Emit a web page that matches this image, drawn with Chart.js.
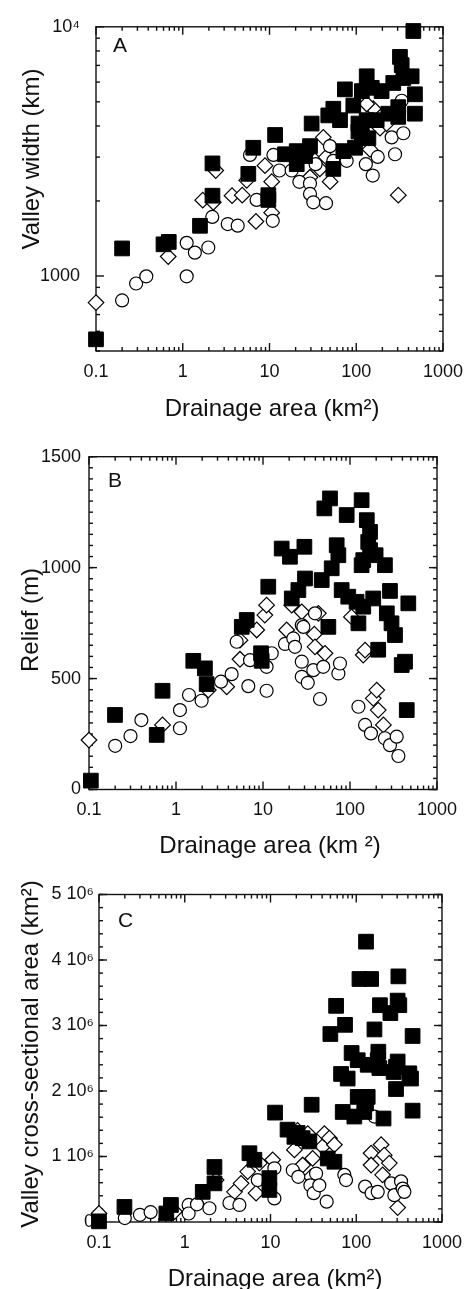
<!DOCTYPE html>
<html><head><meta charset="utf-8">
<script src="https://cdn.jsdelivr.net/npm/chart.js@4.4.1/dist/chart.umd.min.js"></script>
<style>
html,body{margin:0;padding:0;background:#fff;width:474px;height:1289px;overflow:hidden}
canvas{position:absolute;left:0}
</style></head>
<body>
<canvas id="cA" width="474" height="430" style="top:0px"></canvas>
<canvas id="cB" width="474" height="430" style="top:430px"></canvas>
<canvas id="cC" width="474" height="429" style="top:860px"></canvas>
<script>
// ---------- Tick labels ----------
const xTickValues = [0.1, 1, 10, 100, 1000];
const xTickLabels = ['0.1', '1', '10', '100', '1000'];
const aYTickValues = [1000, 10000];
const aYTickLabels = ['1000', '10\u2074'];
const bYTickValues = [0, 500, 1000, 1500];
const bYTickLabels = ['0', '500', '1000', '1500'];
const cYTickValues = [0, 1, 2, 3, 4, 5];
const cYTickLabels = ['0', '1 10\u2076', '2 10\u2076', '3 10\u2076', '4 10\u2076', '5 10\u2076'];

// ---------- Panel A: valley width (km) vs drainage area (km2) ----------
const aSquareX = [0.1,0.2,0.6,0.69,1.58,2.2,2.2,5.7,6.5,9.7,9.7,11.6,15.1,20.6,20.6,25.7,29.3,30.6,54.4,71,96.8,47.6,54.4,65,74,92.5,106,106,116,116,132,132,138,151,172,196,234,267,305,305,349,319,334,435,475,475,455];
const aSquareY = [557,1290,1340,1370,1590,2100,2830,2570,3270,2110,2020,3680,3080,3170,2810,3030,3320,4090,2690,3170,3270,4410,4690,4220,5610,4830,4090,3800,3680,5520,6330,4220,3570,5690,4220,5520,4480,5950,4760,4350,6230,7570,7020,6330,5360,4480,9620];
const aCircleX = [0.2,0.29,0.38,1.11,1.11,1.38,1.97,2.19,3.3,4.3,7.1,10.9,5.96,11.1,13,18,22.1,29.3,29.3,32,44.8,49.8,54.4,77.6,129,155,177,256,349,280,334,34];
const aCircleY = [798,933,997,997,1358,1241,1301,1726,1616,1592,2020,1665,3060,3060,2650,2650,2387,2350,2135,1976,1960,3320,2898,2898,2810,2530,3005,3600,3740,3080,5050,2810];
const aDiamondX = [0.1,0.68,1.7,2.25,2.4,3.7,4.85,6.98,8.87,5.46,10.6,10.6,29.3,41.7,38,50,33.5,157,188,224,144,305,132,45];
const aDiamondY = [782,1197,2015,1976,2650,2100,2110,1655,2772,2420,2390,1795,2490,3600,2690,2390,2898,4690,3920,4090,3220,2110,4900,3000];

// ---------- Panel B: relief (m) ----------
const bSquareX = [0.105,0.199,0.60,0.70,1.58,2.15,2.25,5.7,6.5,9.5,9.66,11.5,16.4,20.4,21.4,25.5,29.9,30.4,47.3,50.7,56.4,58.9,61.6,70.3,73.5,80.2,91.6,95.5,119,125,136,136,142,142,156,162,170,170,185,197,211,252,265,288,300,329,393,429,449,468];
const bSquareY = [40,336,246,445,580,546,475,733,764,614,580,914,1086,1049,861,899,1094,951,944,1267,733,1312,997,1101,1056,899,1237,869,846,749,1304,1011,1034,824,1214,1116,1161,1079,861,1056,630,1011,794,895,749,696,561,576,358,839];
const bCircleX = [0.2,0.30,0.40,1.11,1.11,1.41,1.97,3.29,4.36,4.98,6.78,7.1,11,11,12.6,17.9,22.3,23.3,27.9,27.9,27.9,29.1,32.7,37.9,39.6,45.2,49.3,73.5,76.7,125,149,174,252,288,344,360];
const bCircleY = [197,241,313,276,358,426,400,486,520,666,466,583,445,553,614,656,681,643,576,508,741,733,481,538,794,408,553,523,568,373,291,253,231,200,238,151];
const bDiamondX = [0.1,0.70,2.35,3.83,5.44,5.44,8.47,10.5,11,18.7,21.4,27.9,38.9,39.6,43.3,51.6,104,142,149,185,203,211,242];
const bDiamondY = [223,291,448,463,587,673,719,786,831,719,831,801,700,643,794,614,778,606,628,411,448,358,291];

// ---------- Panel C: valley cross-sectional area (units of 10^6 km2) ----------
const cSquareX = [0.1,0.198,0.61,0.69,1.62,2.22,2.22,5.68,6.49,9.7,9.7,11.3,15.8,19,20.7,23.7,28.4,30.2,46.5,49.9,55.6,58.2,66.5,69.5,74,79.4,88.3,95,104,104,109,124,130,130,136,136,149,163,178,181,186,189,208,250,273,291,291,304,304,310,318,416,435,454,454];
const cSquareY = [0.01,0.23,0.13,0.26,0.46,0.84,0.59,1.05,0.95,0.67,0.49,1.67,1.41,1.30,1.36,1.28,1.23,1.79,0.97,2.87,0.92,3.30,2.26,1.68,3.01,2.19,2.58,1.61,2.47,1.91,3.71,1.68,4.28,1.81,2.40,1.91,3.71,2.94,2.47,2.60,2.35,3.31,1.58,3.19,2.29,2.37,2.03,3.38,2.45,3.75,3.31,2.27,2.19,2.84,1.70];
const cCircleX = [0.2,0.30,0.40,1.11,1.11,1.39,1.94,3.32,4.34,7.1,11.1,11.1,18.2,21.1,29.2,31.9,34,37.1,45.2,72.6,76,127,151,163,178,255,278,333,348,364];
const cCircleY = [0.06,0.11,0.15,0.26,0.13,0.27,0.21,0.29,0.26,0.64,0.82,0.36,0.79,0.69,0.56,0.44,0.74,0.56,0.31,0.72,0.64,0.54,0.44,1.61,0.46,0.59,0.41,0.62,0.51,0.46];
const cDiamondX = [0.1,0.76,2.32,3.8,4.54,5.42,6.79,7.43,10.6,19,20.7,23.7,27.2,29.7,31,40.5,42.5,48.6,55.6,149,149,195,203,212,243,304];
const cDiamondY = [0.13,0.16,0.64,0.46,0.59,0.77,0.44,0.90,0.95,1.10,1.40,0.87,1.35,0.69,0.97,1.15,1.35,1.28,1.18,1.05,0.87,1.18,0.72,1.02,0.90,0.22];

// ---------- helpers ----------
const FONT = '"Liberation Sans", Arial, Helvetica, sans-serif';
const INK = '#111';
function pts(xs, ys) { return xs.map((x, i) => ({ x: x, y: ys[i] })); }
function logMinor(lo, hi) {
  const out = [];
  for (let e = Math.floor(Math.log10(lo)) - 1; e <= Math.ceil(Math.log10(hi)); e++) {
    for (let m = 2; m < 10; m++) {
      const v = m * Math.pow(10, e);
      if (v >= lo * 0.999 && v <= hi * 1.001) out.push(v);
    }
  }
  return out;
}
function linMinor(lo, hi, step) {
  const out = [];
  for (let k = 0; lo + k * step <= hi + 1e-9; k++) out.push(lo + k * step);
  return out;
}

const framePlugin = {
  id: 'frame',
  beforeDatasetsDraw(chart, args, o) {
    const ctx = chart.ctx, a = chart.chartArea, sx = chart.scales.x, sy = chart.scales.y;
    ctx.save();
    ctx.strokeStyle = INK;
    ctx.lineWidth = 1.4;
    ctx.lineCap = 'butt';
    const line = (x1, y1, x2, y2) => { ctx.beginPath(); ctx.moveTo(x1, y1); ctx.lineTo(x2, y2); ctx.stroke(); };
    const xt = (vals, len) => vals.forEach(v => { const p = sx.getPixelForValue(v); line(p, a.bottom, p, a.bottom - len); line(p, a.top, p, a.top + len); });
    const yt = (vals, len) => vals.forEach(v => { const p = sy.getPixelForValue(v); line(a.left, p, a.left + len, p); line(a.right, p, a.right - len, p); });
    xt(o.xMinor, 4); xt(o.xMajor, 8);
    yt(o.yMinor, 4); yt(o.yMajor, 8);
    ctx.strokeRect(a.left, a.top, a.right - a.left, a.bottom - a.top);
    ctx.restore();
  },
  afterDraw(chart, args, o) {
    const ctx = chart.ctx;
    ctx.save();
    ctx.fillStyle = INK;
    ctx.textBaseline = 'alphabetic';
    ctx.font = '21px ' + FONT;
    ctx.textAlign = 'left';
    ctx.fillText(o.letter, o.letterX, o.letterY);
    ctx.font = '24px ' + FONT;
    ctx.textAlign = 'center';
    ctx.fillText(o.xTitle, o.xTitleX, o.xTitleY);
    ctx.translate(o.yTitleX, o.yTitleY);
    ctx.rotate(-Math.PI / 2);
    ctx.fillText(o.yTitle, 0, 0);
    ctx.restore();
  }
};

function makeChart(id, cfg) {
  const cv = document.getElementById(id);
  const H = cv.height, W = cv.width;
  const ds = (label, data, style, r, bg, bw) => ({
    label, data, pointStyle: style, pointRadius: r, pointHoverRadius: r,
    backgroundColor: bg, borderColor: '#000', pointBorderWidth: bw, borderWidth: bw,
    showLine: false, clip: false
  });
  return new Chart(cv, {
    type: 'scatter',
    data: {
      datasets: [
        ds('squares', pts(cfg.sqX, cfg.sqY), 'rect', 10.4, '#000', 1),
        ds('circles', pts(cfg.ciX, cfg.ciY), 'circle', 6.5, '#fff', 1.2),
        ds('diamonds', pts(cfg.diX, cfg.diY), 'rectRot', 7.8, '#fff', 1.2)
      ]
    },
    options: {
      responsive: false, animation: false, devicePixelRatio: 1,
      layout: { padding: { left: 0, top: cfg.top, right: W - cfg.right, bottom: 0 } },
      plugins: {
        legend: { display: false }, tooltip: { enabled: false },
        frame: cfg.frame
      },
      scales: {
        x: {
          type: 'logarithmic', min: 0.1, max: 1000,
          grid: { display: false, drawTicks: false }, border: { display: false },
          ticks: {
            autoSkip: false, maxRotation: 0, minRotation: 0, padding: 10, color: INK,
            font: { family: FONT, size: 18 },
            callback: (v, i) => xTickLabels[i]
          },
          afterBuildTicks: s => { s.ticks = xTickValues.map(v => ({ value: v })); },
          afterFit: s => { s.height = H - cfg.bottom; }
        },
        y: {
          type: cfg.yType, min: cfg.yMin, max: cfg.yMax,
          grid: { display: false, drawTicks: false }, border: { display: false },
          ticks: {
            autoSkip: false, padding: cfg.yPad, color: INK,
            font: { family: FONT, size: 18 },
            callback: (v, i) => cfg.yLabels[i]
          },
          afterBuildTicks: s => { s.ticks = cfg.yValues.map(v => ({ value: v })); },
          afterFit: s => { s.width = cfg.left; }
        }
      }
    },
    plugins: [framePlugin]
  });
}

const xMinorTicks = logMinor(0.1, 1000);

makeChart('cA', {
  sqX: aSquareX, sqY: aSquareY, ciX: aCircleX, ciY: aCircleY, diX: aDiamondX, diY: aDiamondY,
  yType: 'logarithmic', yMin: 500, yMax: 10000, yValues: aYTickValues, yLabels: aYTickLabels, yPad: 16,
  left: 96, right: 443, top: 19, bottom: 351,
  frame: {
    xMajor: xTickValues, xMinor: xMinorTicks, yMajor: aYTickValues, yMinor: logMinor(500, 10000),
    letter: 'A', letterX: 113, letterY: 52,
    xTitle: 'Drainage area (km\u00B2)', xTitleX: 272, xTitleY: 416,
    yTitle: 'Valley width (km)', yTitleX: 38.5, yTitleY: 159
  }
});

makeChart('cB', {
  sqX: bSquareX, sqY: bSquareY, ciX: bCircleX, ciY: bCircleY, diX: bDiamondX, diY: bDiamondY,
  yType: 'linear', yMin: 0, yMax: 1500, yValues: bYTickValues, yLabels: bYTickLabels, yPad: 8,
  left: 89, right: 437, top: 26.7, bottom: 359.5,
  frame: {
    xMajor: xTickValues, xMinor: xMinorTicks, yMajor: bYTickValues, yMinor: linMinor(0, 1500, 50),
    letter: 'B', letterX: 108, letterY: 57,
    xTitle: 'Drainage area (km \u00B2)', xTitleX: 270, xTitleY: 423,
    yTitle: 'Relief (m)', yTitleX: 38, yTitleY: 190
  }
});

makeChart('cC', {
  sqX: cSquareX, sqY: cSquareY, ciX: cCircleX, ciY: cCircleY, diX: cDiamondX, diY: cDiamondY,
  yType: 'linear', yMin: 0, yMax: 5, yValues: cYTickValues, yLabels: cYTickLabels, yPad: 5,
  left: 99, right: 442, top: 34.5, bottom: 362,
  frame: {
    xMajor: xTickValues, xMinor: xMinorTicks, yMajor: cYTickValues, yMinor: linMinor(0, 5, 0.2),
    letter: 'C', letterX: 118, letterY: 67,
    xTitle: 'Drainage area (km\u00B2)', xTitleX: 275, xTitleY: 426,
    yTitle: 'Valley cross-sectional area (km\u00B2)', yTitleX: 38.3, yTitleY: 194
  }
});
</script>
</body></html>
